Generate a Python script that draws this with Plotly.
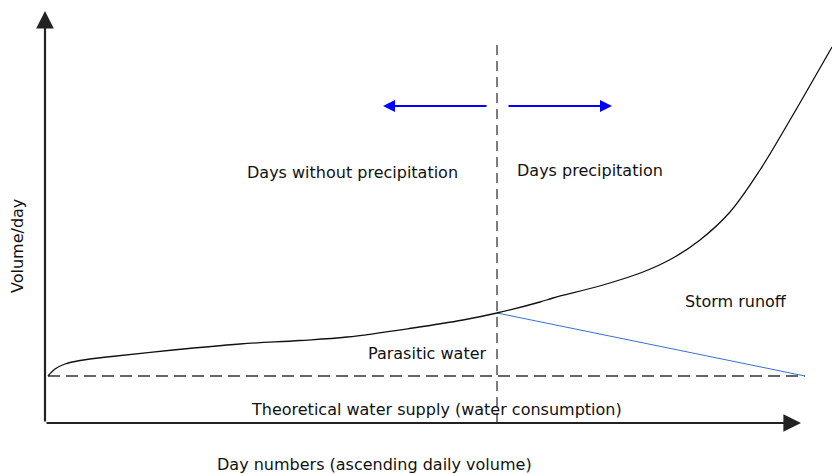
import plotly.graph_objects as go

# Cumulative curve (days sorted by ascending daily volume) - schematic units
curve_x = [3, 10, 20, 35, 62, 128, 195, 255, 302, 368, 418, 452, 495, 508, 558, 598, 628, 655, 685, 715, 745, 787]
curve_y = [47, 54, 59, 62.5, 66, 73, 79, 82.5, 86, 95, 103, 110, 121, 125, 138, 151, 165, 183, 211, 253, 303, 376]

# Theoretical water supply baseline
base_x = [3, 760]
base_y = [47, 47]

# Division between dry and wet days
split_x = [452, 452]
split_y = [0, 383]

# Parasitic water limit line in wet days
storm_x = [452, 760]
storm_y = [110, 47]

# Axis arrows (tail, tip)
yarrow = [(0, 0), (0, 412)]
xarrow = [(0, 0), (756, 0)]

# Direction arrows (tail, tip)
left_arrow = [(443, 317), (338, 317)]
right_arrow = [(462, 317), (567, 317)]

labels = [
    ("Days without precipitation", 307.5, 251, 0),
    ("Days precipitation", 544.5, 253, 0),
    ("Parasitic water", 382.5, 70, 0),
    ("Storm runoff", 691, 122, 0),
    ("Theoretical water supply (water consumption)", 391, 14, 0),
    ("Day numbers (ascending daily volume)", 329, -41, 0),
    ("Volume/day", -28, 177, -90),
]

fig = go.Figure()
fig.add_trace(go.Scatter(x=base_x, y=base_y, mode="lines",
                         line=dict(color="#333333", width=1.3, dash="12px,6px"), hoverinfo="skip"))
fig.add_trace(go.Scatter(x=split_x, y=split_y, mode="lines",
                         line=dict(color="#707070", width=1.8, dash="10px,6px"), hoverinfo="skip"))
fig.add_trace(go.Scatter(x=storm_x, y=storm_y, mode="lines",
                         line=dict(color="#3a6fd8", width=1), hoverinfo="skip"))
fig.add_trace(go.Scatter(x=curve_x, y=curve_y, mode="lines", line_shape="spline",
                         line=dict(color="#111111", width=1.3, smoothing=1.0), hoverinfo="skip"))

def arrow(tail, tip, color, width, size):
    fig.add_annotation(x=tip[0], y=tip[1], ax=tail[0], ay=tail[1],
                       xref="x", yref="y", axref="x", ayref="y",
                       text="", showarrow=True, arrowhead=2, arrowsize=size,
                       arrowwidth=width, arrowcolor=color, standoff=0, startstandoff=0)

arrow(*yarrow, "#222222", 2.2, 1.6)
arrow(*xarrow, "#222222", 2.2, 1.6)
arrow(*left_arrow, "#0000ff", 2, 1.2)
arrow(*right_arrow, "#0000ff", 2, 1.2)

for txt, x, y, ang in labels:
    fig.add_annotation(x=x, y=y, xref="x", yref="y", text=txt, showarrow=False,
                       textangle=ang, xanchor="center", yanchor="middle",
                       font=dict(family="DejaVu Sans", size=16, color="#111111"))

fig.update_layout(
    width=832, height=474,
    margin=dict(l=0, r=0, t=0, b=0),
    paper_bgcolor="white", plot_bgcolor="white",
    showlegend=False,
    xaxis=dict(range=[-45, 787], visible=False, fixedrange=True),
    yaxis=dict(range=[-51, 423], visible=False, fixedrange=True),
)

fig.write_html("out.html", config={"displayModeBar": False},
               post_script="document.body.style.margin='0';document.body.style.overflow='hidden';")
